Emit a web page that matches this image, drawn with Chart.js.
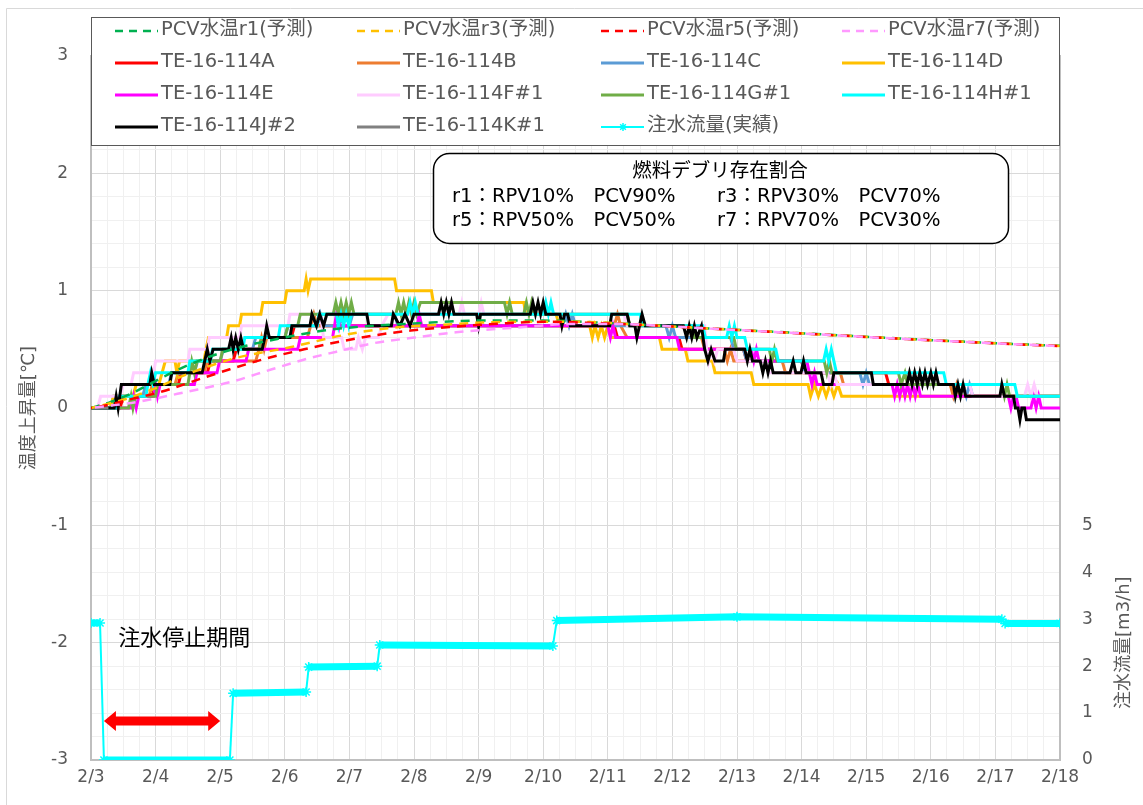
<!DOCTYPE html>
<html lang="ja">
<head>
<meta charset="utf-8">
<title>PCV水温 温度上昇量</title>
<script src="https://cdn.jsdelivr.net/npm/chart.js@4.4.1/dist/chart.umd.min.js"></script>
<style>
  html, body { margin: 0; padding: 0; background: #fff; }
  #chart { display: block; }
</style>
</head>
<body>
<canvas id="chart" width="1143" height="805"></canvas>
<script>
// x = days since 2/3 0:00, y = temperature rise [deg C] (flow: m3/h)
const dateLabels = ['2/3', '2/4', '2/5', '2/6', '2/7', '2/8', '2/9', '2/10', '2/11', '2/12', '2/13', '2/14', '2/15', '2/16', '2/17', '2/18'];
const flowTickLabels = ['0', '1', '2', '3', '4', '5'];

const seriesNames = ['PCV水温r1(予測)', 'PCV水温r3(予測)', 'PCV水温r5(予測)', 'PCV水温r7(予測)',
    'TE-16-114A', 'TE-16-114B', 'TE-16-114C', 'TE-16-114D',
    'TE-16-114E', 'TE-16-114F#1', 'TE-16-114G#1', 'TE-16-114H#1',
    'TE-16-114J#2', 'TE-16-114K#1', '注水流量(実績)'];
const seriesColors = ['#00B050', '#FFC000', '#FF0000', '#FF99FF',
    '#FF0000', '#ED7D31', '#5B9BD5', '#FFC000',
    '#FF00FF', '#FFCCFF', '#70AD47', '#00FFFF',
    '#000000', '#808080', '#00FFFF'];

// predictions
const r1 = [[0,0],[0.3,0.05],[0.65,0.13],[1.0,0.23],[1.4,0.34],[1.9,0.45],[2.4,0.53],[2.9,0.59],[3.6,0.66],[4.1,0.69],[5.0,0.72],[6.0,0.745],[7.0,0.745],[8.0,0.725],[9.0,0.695],[9.5,0.68],[10.5,0.652],[11.5,0.622],[12.5,0.593],[13.5,0.566],[14.5,0.541],[15,0.53]];
const r3 = [[0,0],[0.5,0.07],[1.0,0.17],[1.5,0.29],[2.2,0.42],[3.1,0.52],[3.9,0.62],[4.6,0.68],[5.45,0.71],[6.5,0.735],[7.5,0.735],[8.5,0.71],[9.5,0.68],[10.5,0.651],[11.5,0.621],[12.5,0.592],[13.5,0.565],[14.5,0.54],[15,0.529]];
const r5 = [[0,0],[0.3,0.03],[0.65,0.08],[1.1,0.14],[1.7,0.25],[2.15,0.33],[2.7,0.42],[3.3,0.5],[3.8,0.56],[4.4,0.62],[4.95,0.66],[5.55,0.69],[6.35,0.72],[7.05,0.735],[8.0,0.72],[9.0,0.695],[9.5,0.679],[10.5,0.65],[11.5,0.62],[12.5,0.591],[13.5,0.564],[14.5,0.539],[15,0.528]];
const r7 = [[0,0],[0.3,0.02],[0.7,0.05],[1.5,0.14],[2.15,0.22],[2.8,0.33],[3.35,0.42],[3.8,0.48],[4.35,0.55],[5.0,0.6],[5.65,0.645],[6.7,0.69],[7.4,0.715],[8.2,0.715],[9.0,0.695],[9.5,0.679],[10.5,0.65],[11.5,0.62],[12.5,0.591],[13.5,0.564],[14.5,0.539],[15,0.528]];

// measured
const teA = [[0,0],[0.45,0],[0.5,0.1],[0.95,0.1],[1.0,0.2],[1.35,0.2],[1.4,0.3],[1.8,0.3],[1.85,0.4],[2.2,0.4],[2.25,0.5],[2.6,0.5],[2.65,0.6],[3.1,0.6],[3.15,0.7],[8.1,0.7],[8.15,0.6],[9.1,0.6],[9.15,0.5],[10.1,0.5],[10.15,0.4],[11.0,0.4],[11.05,0.3],[12.3,0.3],[12.35,0.2],[13.5,0.2],[13.55,0.1],[15,0.1]];
const teB = [[0,0],[0.4,0],[0.45,0.1],[0.9,0.1],[0.95,0.2],[1.3,0.2],[1.35,0.3],[1.75,0.3],[1.8,0.4],[2.55,0.4],[2.6,0.5],[2.64,0.6],[2.68,0.5],[2.72,0.6],[3.35,0.6],[3.4,0.7],[3.45,0.8],[3.5,0.7],[8.1,0.7],[8.15,0.8],[8.2,0.7],[8.3,0.6],[9.45,0.6],[9.5,0.5],[9.8,0.5],[9.85,0.4],[9.9,0.5],[9.95,0.4],[10.7,0.4],[10.75,0.3],[11.6,0.3],[11.65,0.2],[13.3,0.2],[13.35,0.1],[13.4,0.2],[13.45,0.1],[15,0.1]];
const teC = [[0,0],[0.3,0],[0.35,0.1],[0.8,0.1],[0.85,0.2],[1.2,0.2],[1.25,0.3],[1.6,0.3],[1.65,0.4],[2.0,0.4],[2.05,0.5],[2.5,0.5],[2.55,0.6],[3.0,0.6],[3.05,0.7],[3.5,0.7],[3.55,0.8],[3.6,0.7],[4.0,0.7],[4.05,0.8],[4.7,0.8],[4.75,0.7],[7.3,0.7],[7.35,0.8],[7.4,0.7],[7.45,0.8],[7.5,0.7],[8.9,0.7],[8.95,0.6],[9.0,0.7],[9.05,0.6],[9.9,0.6],[9.95,0.5],[10.1,0.5],[10.15,0.4],[11.0,0.4],[11.05,0.3],[11.9,0.3],[11.95,0.2],[12.0,0.3],[12.05,0.2],[13.5,0.2],[13.55,0.1],[13.6,0.2],[13.65,0.1],[15,0.1]];
const teD = [[0,0],[0.3,0],[0.35,0.1],[0.65,0.1],[0.7,0.2],[1.05,0.2],[1.1,0.3],[1.15,0.4],[1.3,0.4],[1.33,0.3],[1.37,0.4],[1.75,0.4],[1.78,0.5],[1.82,0.6],[2.1,0.6],[2.13,0.7],[2.3,0.7],[2.33,0.8],[2.63,0.8],[2.66,0.9],[3.0,0.9],[3.03,1.0],[3.3,1.0],[3.33,1.1],[3.36,1.0],[3.4,1.1],[4.7,1.1],[4.73,1.0],[5.27,1.0],[5.3,0.9],[6.7,0.9],[6.73,0.8],[7.2,0.8],[7.25,0.7],[7.72,0.7],[7.76,0.6],[7.8,0.7],[7.85,0.6],[7.9,0.7],[7.95,0.6],[8.0,0.7],[8.05,0.6],[8.8,0.6],[8.84,0.5],[9.2,0.5],[9.24,0.4],[9.62,0.4],[9.66,0.3],[10.22,0.3],[10.26,0.2],[11.1,0.2],[11.14,0.1],[11.2,0.2],[11.26,0.1],[11.32,0.2],[11.38,0.1],[11.44,0.2],[11.5,0.1],[11.56,0.2],[11.62,0.1],[15,0.1]];
const teE = [[0,0],[0.62,0],[0.66,0.1],[0.7,0],[0.74,0.1],[0.97,0.1],[1.0,0.2],[1.03,0.1],[1.07,0.2],[1.6,0.2],[1.64,0.3],[1.95,0.3],[1.99,0.4],[2.4,0.4],[2.44,0.5],[3.2,0.5],[3.24,0.6],[3.74,0.6],[3.77,0.7],[3.8,0.8],[3.84,0.7],[3.87,0.8],[3.91,0.7],[5.05,0.7],[5.08,0.8],[5.12,0.7],[8.0,0.7],[8.04,0.6],[8.08,0.7],[8.12,0.6],[9.07,0.6],[9.11,0.5],[10.22,0.5],[10.26,0.4],[10.3,0.5],[10.34,0.4],[11.08,0.4],[11.12,0.3],[11.16,0.2],[11.2,0.3],[11.24,0.2],[12.4,0.2],[12.44,0.1],[12.48,0.2],[12.52,0.1],[12.56,0.2],[12.6,0.1],[12.64,0.2],[12.68,0.1],[12.72,0.2],[12.76,0.1],[12.8,0.2],[12.84,0.1],[14.2,0.1],[14.24,0],[14.28,0.1],[14.32,0.1],[14.36,0],[14.55,0],[14.59,0.1],[14.63,0],[14.67,0.1],[14.71,0],[15,0]];
const teF = [[0,0],[0.1,0],[0.15,0.1],[0.45,0.1],[0.5,0.2],[0.62,0.2],[0.66,0.3],[0.97,0.3],[1.0,0.4],[1.5,0.4],[1.53,0.5],[1.8,0.5],[1.83,0.6],[2.3,0.6],[2.33,0.7],[3.05,0.7],[3.08,0.8],[3.55,0.8],[3.6,0.6],[3.88,0.6],[3.92,0.5],[4.1,0.5],[4.14,0.6],[4.2,0.5],[4.25,0.6],[4.45,0.6],[4.5,0.7],[4.6,0.8],[5.7,0.8],[5.74,0.9],[5.78,0.8],[6.0,0.8],[6.04,0.9],[6.08,0.8],[7.0,0.8],[7.04,0.9],[7.08,0.8],[8.25,0.8],[8.3,0.7],[9.5,0.7],[9.53,0.5],[9.56,0.4],[9.6,0.5],[9.65,0.4],[9.7,0.5],[9.95,0.5],[10.0,0.4],[10.45,0.4],[10.5,0.3],[11.4,0.3],[11.45,0.2],[11.5,0.3],[11.55,0.2],[13.6,0.2],[13.65,0.1],[14.45,0.1],[14.5,0.2],[14.55,0.1],[14.6,0.2],[14.65,0.1],[15,0.1]];
const teG = [[0,0],[0.58,0],[0.62,0.1],[0.65,0],[0.69,0.1],[1.0,0.1],[1.03,0.2],[1.5,0.2],[1.53,0.3],[1.56,0.4],[1.6,0.3],[1.64,0.4],[2.0,0.4],[2.04,0.5],[2.6,0.5],[2.64,0.6],[3.0,0.6],[3.05,0.7],[3.2,0.7],[3.24,0.8],[3.75,0.8],[3.79,0.9],[3.83,0.8],[3.87,0.9],[3.91,0.8],[3.95,0.9],[3.99,0.8],[4.03,0.9],[4.07,0.8],[4.72,0.8],[4.76,0.9],[4.8,0.8],[4.84,0.9],[4.88,0.8],[4.92,0.9],[4.96,0.8],[5.0,0.9],[5.04,0.8],[5.1,0.9],[6.4,0.9],[6.44,0.8],[6.48,0.9],[6.52,0.8],[6.7,0.8],[6.74,0.9],[6.78,0.8],[6.82,0.9],[6.86,0.8],[8.3,0.8],[8.34,0.7],[9.3,0.7],[9.34,0.6],[9.95,0.6],[9.99,0.5],[10.5,0.5],[10.54,0.4],[10.58,0.5],[10.62,0.4],[11.35,0.4],[11.39,0.3],[11.43,0.4],[11.47,0.3],[12.5,0.3],[12.54,0.2],[12.6,0.3],[12.64,0.2],[14.1,0.2],[14.14,0.1],[14.18,0.2],[14.22,0.1],[15,0.1]];
const teH = [[0,0],[0.4,0],[0.44,0.1],[0.85,0.1],[0.88,0.2],[0.92,0.3],[0.96,0.2],[1.0,0.3],[1.5,0.3],[1.53,0.4],[1.85,0.4],[1.88,0.5],[2.35,0.5],[2.38,0.6],[2.9,0.6],[2.93,0.7],[3.5,0.7],[3.53,0.8],[3.8,0.8],[3.83,0.7],[3.87,0.8],[3.91,0.7],[3.95,0.8],[3.99,0.7],[4.03,0.8],[4.9,0.8],[4.94,0.9],[4.98,0.8],[5.02,0.9],[5.06,0.8],[7.0,0.8],[7.04,0.9],[7.08,0.8],[7.12,0.9],[7.16,0.8],[8.5,0.8],[8.54,0.7],[9.47,0.7],[9.51,0.6],[9.84,0.6],[9.88,0.7],[9.92,0.6],[9.96,0.7],[10.0,0.6],[10.12,0.6],[10.16,0.5],[10.6,0.5],[10.64,0.4],[11.34,0.4],[11.38,0.5],[11.42,0.4],[11.46,0.5],[11.5,0.4],[11.54,0.3],[13.2,0.3],[13.24,0.2],[14.3,0.2],[14.34,0.1],[15,0.1]];
const teJ = [[0,0],[0.36,0],[0.39,0.1],[0.42,0],[0.47,0.2],[0.91,0.2],[0.94,0.3],[0.98,0.2],[1.22,0.2],[1.25,0.3],[1.72,0.3],[1.76,0.4],[1.8,0.5],[1.84,0.4],[1.89,0.5],[2.13,0.5],[2.17,0.6],[2.2,0.5],[2.24,0.6],[2.28,0.5],[2.32,0.6],[2.36,0.5],[2.65,0.5],[2.69,0.6],[2.72,0.7],[2.76,0.6],[3.08,0.6],[3.11,0.7],[3.39,0.7],[3.42,0.8],[3.49,0.7],[3.54,0.8],[3.6,0.7],[3.65,0.8],[4.27,0.8],[4.3,0.7],[4.65,0.7],[4.68,0.8],[4.78,0.7],[4.86,0.8],[4.94,0.7],[5.0,0.8],[5.38,0.8],[5.42,0.9],[5.46,0.8],[5.5,0.9],[5.54,0.8],[5.58,0.9],[5.62,0.8],[5.97,0.8],[6.0,0.7],[6.03,0.8],[6.8,0.8],[6.84,0.9],[6.88,0.8],[6.92,0.9],[6.96,0.8],[7.0,0.9],[7.04,0.8],[7.26,0.8],[7.29,0.7],[7.33,0.8],[7.38,0.8],[7.42,0.7],[8.03,0.7],[8.06,0.8],[8.3,0.8],[8.34,0.7],[8.42,0.7],[8.45,0.6],[8.53,0.8],[8.58,0.7],[9.17,0.7],[9.22,0.6],[9.26,0.7],[9.3,0.6],[9.34,0.7],[9.38,0.6],[9.45,0.7],[9.5,0.5],[9.55,0.4],[9.6,0.5],[9.66,0.4],[9.79,0.4],[9.82,0.5],[10.12,0.5],[10.16,0.4],[10.2,0.5],[10.24,0.4],[10.36,0.4],[10.4,0.3],[10.44,0.4],[10.48,0.3],[10.52,0.4],[10.56,0.3],[10.82,0.3],[10.87,0.4],[10.91,0.3],[10.99,0.3],[11.03,0.4],[11.07,0.3],[11.3,0.3],[11.34,0.2],[11.47,0.2],[11.5,0.3],[12.08,0.3],[12.11,0.2],[12.63,0.2],[12.67,0.3],[12.71,0.2],[12.75,0.3],[12.79,0.2],[12.83,0.3],[12.87,0.2],[12.91,0.3],[12.95,0.2],[13.0,0.3],[13.04,0.2],[13.08,0.3],[13.12,0.2],[13.35,0.2],[13.38,0.1],[13.42,0.2],[13.46,0.1],[13.5,0.2],[13.54,0.1],[14.07,0.1],[14.1,0.2],[14.14,0.1],[14.28,0.1],[14.31,0],[14.35,0],[14.38,-0.1],[14.41,0],[14.45,0],[14.48,-0.1],[15,-0.1]];
const teK = [[0,0],[0.27,0]];

// injection flow [m3/h], right axis
const flow = [[0,2.92],[0.14,2.92],[0.2,0],[2.15,0],[2.2,1.42],[3.33,1.45],[3.37,1.98],[4.43,2.0],[4.47,2.45],[7.15,2.43],[7.21,2.97],[10.0,3.05],[14.1,3.0],[14.15,2.91],[15,2.91]];

const seriesData = [r1, r3, r5, r7, teA, teB, teC, teD, teE, teF, teG, teH, teJ, teK, flow];
// lower number = drawn later (on top)
const drawOrder = [4, 3, 2, 1, 14, 13, 12, 11, 10, 9, 8, 7, 6, 5, 0];

const noteTitle = '燃料デブリ存在割合';
const noteRows = [
    ['r1：RPV10%　PCV90%', 'r3：RPV30%　PCV70%'],
    ['r5：RPV50%　PCV50%', 'r7：RPV70%　PCV30%']
];
const stopText = '注水停止期間';
const stopArrow = { from: 0.2, to: 2.0, y: -2.667 };
const stopTextPos = { x: 0.42, y: -1.97 };

const FONT = '"DejaVu Sans", "Noto Sans CJK JP", sans-serif';
const GRAY = '#595959';

function isWhole(v) {
    return Math.abs(v - Math.round(v)) < 1e-6;
}

const datasets = seriesNames.map((name, i) => {
    const ds = {
        label: name,
        data: seriesData[i],
        borderColor: seriesColors[i],
        backgroundColor: seriesColors[i],
        pointRadius: 0,
        fill: false,
        order: drawOrder[i],
        yAxisID: 'y'
    };
    if (i < 4) {
        ds.borderWidth = 2.5;
        ds.borderDash = [9, 7];
        ds.borderDashOffset = i * 4;
        ds.cubicInterpolationMode = 'monotone';
    } else if (i < 14) {
        ds.borderWidth = 3;
        ds.borderJoinStyle = 'miter';
    } else {
        ds.yAxisID = 'y2';
        ds.borderWidth = 7;
        ds.pointStyle = 'star';
        ds.pointRadius = 5;
        ds.pointBorderWidth = 1.5;
        ds.segment = {
            borderWidth: ctx => Math.abs(ctx.p1.x - ctx.p0.x) > 3 * Math.abs(ctx.p1.y - ctx.p0.y) ? 7 : 2
        };
    }
    return ds;
});

function drawStar(ctx, x, y, r) {
    ctx.beginPath();
    for (let k = 0; k < 4; k++) {
        const a = k * Math.PI / 4;
        ctx.moveTo(x - Math.cos(a) * r, y - Math.sin(a) * r);
        ctx.lineTo(x + Math.cos(a) * r, y + Math.sin(a) * r);
    }
    ctx.stroke();
}

const decorations = {
    id: 'decorations',
    beforeDraw(chart) {
        const ctx = chart.ctx;
        ctx.save();
        ctx.fillStyle = '#fff';
        ctx.fillRect(0, 0, chart.width, chart.height);
        ctx.strokeStyle = '#d9d9d9';
        ctx.lineWidth = 1;
        ctx.beginPath();
        ctx.moveTo(6.5, chart.height);
        ctx.lineTo(6.5, 8.5);
        ctx.lineTo(chart.width, 8.5);
        ctx.stroke();
        ctx.restore();
    },
    afterDatasetsDraw(chart) {
        const ctx = chart.ctx;
        const xs = chart.scales.x, ys = chart.scales.y;
        ctx.save();
        // red double arrow
        const x0 = xs.getPixelForValue(stopArrow.from);
        const x1 = xs.getPixelForValue(stopArrow.to);
        const yc = ys.getPixelForValue(stopArrow.y);
        const hl = 12, hh = 10, sh = 4.5;
        ctx.fillStyle = '#FF0000';
        ctx.beginPath();
        ctx.moveTo(x0, yc);
        ctx.lineTo(x0 + hl, yc - hh);
        ctx.lineTo(x0 + hl, yc - sh);
        ctx.lineTo(x1 - hl, yc - sh);
        ctx.lineTo(x1 - hl, yc - hh);
        ctx.lineTo(x1, yc);
        ctx.lineTo(x1 - hl, yc + hh);
        ctx.lineTo(x1 - hl, yc + sh);
        ctx.lineTo(x0 + hl, yc + sh);
        ctx.lineTo(x0 + hl, yc + hh);
        ctx.closePath();
        ctx.fill();
        ctx.fillStyle = '#000';
        ctx.font = '22px ' + FONT;
        ctx.textBaseline = 'middle';
        ctx.textAlign = 'left';
        ctx.fillText(stopText, xs.getPixelForValue(stopTextPos.x), ys.getPixelForValue(stopTextPos.y));
        ctx.restore();
    },
    afterDraw(chart) {
        const ctx = chart.ctx;
        ctx.save();
        // legend box
        ctx.fillStyle = '#fff';
        ctx.fillRect(91, 17, 968, 128);
        ctx.strokeStyle = '#595959';
        ctx.lineWidth = 1;
        ctx.strokeRect(91.5, 17.5, 968, 128);
        const colX = [161, 403, 647, 888];
        const rowY = [30, 62, 94, 126];
        ctx.font = '19.5px ' + FONT;
        ctx.textBaseline = 'middle';
        ctx.textAlign = 'left';
        chart.data.datasets.forEach((ds, i) => {
            const tx = colX[i % 4], ty = rowY[Math.floor(i / 4)];
            ctx.strokeStyle = ds.borderColor;
            ctx.beginPath();
            if (i < 4) {
                ctx.lineWidth = 2.5;
                ctx.setLineDash([8, 6]);
            } else {
                ctx.lineWidth = i === 14 ? 2 : 3;
                ctx.setLineDash([]);
            }
            ctx.moveTo(tx - 46, ty + 1);
            ctx.lineTo(tx - 3, ty + 1);
            ctx.stroke();
            ctx.setLineDash([]);
            if (i === 14) {
                ctx.lineWidth = 1.5;
                drawStar(ctx, tx - 24, ty + 1, 4);
            }
            ctx.fillStyle = GRAY;
            ctx.fillText(ds.label, tx, ty);
        });
        // note box
        ctx.fillStyle = '#fff';
        ctx.strokeStyle = '#000';
        ctx.lineWidth = 1.5;
        ctx.beginPath();
        ctx.roundRect(433.5, 153.5, 575, 90, 16);
        ctx.fill();
        ctx.stroke();
        ctx.fillStyle = '#000';
        ctx.textAlign = 'center';
        ctx.fillText(noteTitle, 720, 172);
        ctx.textAlign = 'left';
        noteRows.forEach((row, r) => {
            ctx.fillText(row[0], 452, 197 + r * 24);
            ctx.fillText(row[1], 717, 197 + r * 24);
        });
        // right axis title, centred on the labelled 0-5 range
        const y2 = chart.scales.y2;
        const cy = (y2.getPixelForValue(0) + y2.getPixelForValue(5)) / 2;
        ctx.translate(1124, cy);
        ctx.rotate(-Math.PI / 2);
        ctx.fillStyle = GRAY;
        ctx.font = '18px ' + FONT;
        ctx.textAlign = 'center';
        ctx.fillText('注水流量[m3/h]', 0, 0);
        ctx.restore();
    }
};

const gridColor = ctx => (ctx.tick && isWhole(ctx.tick.value)) ? '#d9d9d9' : '#f0f0f0';

new Chart(document.getElementById('chart'), {
    type: 'line',
    data: { datasets },
    options: {
        responsive: false,
        animation: false,
        events: [],
        layout: { padding: { top: 56, left: 0, right: 0, bottom: 0 } },
        plugins: {
            legend: { display: false },
            tooltip: { enabled: false }
        },
        scales: {
            x: {
                type: 'linear',
                min: 0,
                max: 15,
                afterFit: s => { s.height = 45; },
                ticks: {
                    stepSize: 0.25,
                    autoSkip: false,
                    maxRotation: 0,
                    padding: 7,
                    color: GRAY,
                    font: { family: FONT, size: 17 },
                    callback: v => isWhole(v) ? dateLabels[Math.round(v)] : ''
                },
                grid: { color: gridColor, drawTicks: false },
                border: { color: '#bfbfbf', width: 2 }
            },
            y: {
                position: 'left',
                min: -3,
                max: 3,
                afterFit: s => { s.width = 91; },
                ticks: {
                    stepSize: 0.2,
                    autoSkip: false,
                    padding: 23,
                    color: GRAY,
                    font: { family: FONT, size: 17 },
                    callback: v => isWhole(v) ? String(Math.round(v)) : ''
                },
                grid: { color: gridColor, drawTicks: false },
                border: { color: '#bfbfbf', width: 2 },
                title: {
                    display: true,
                    text: '温度上昇量[℃]',
                    color: GRAY,
                    font: { family: FONT, size: 18 },
                    padding: { top: 19, bottom: 0 }
                }
            },
            y2: {
                position: 'right',
                min: 0,
                max: 15,
                afterFit: s => { s.width = 83; },
                ticks: {
                    stepSize: 1,
                    autoSkip: false,
                    padding: 22,
                    color: GRAY,
                    font: { family: FONT, size: 17 },
                    callback: v => (v <= 5 ? flowTickLabels[v] : '')
                },
                grid: { display: false, drawTicks: false },
                border: { color: '#bfbfbf', width: 2 }
            }
        }
    },
    plugins: [decorations]
});
</script>
</body>
</html>
